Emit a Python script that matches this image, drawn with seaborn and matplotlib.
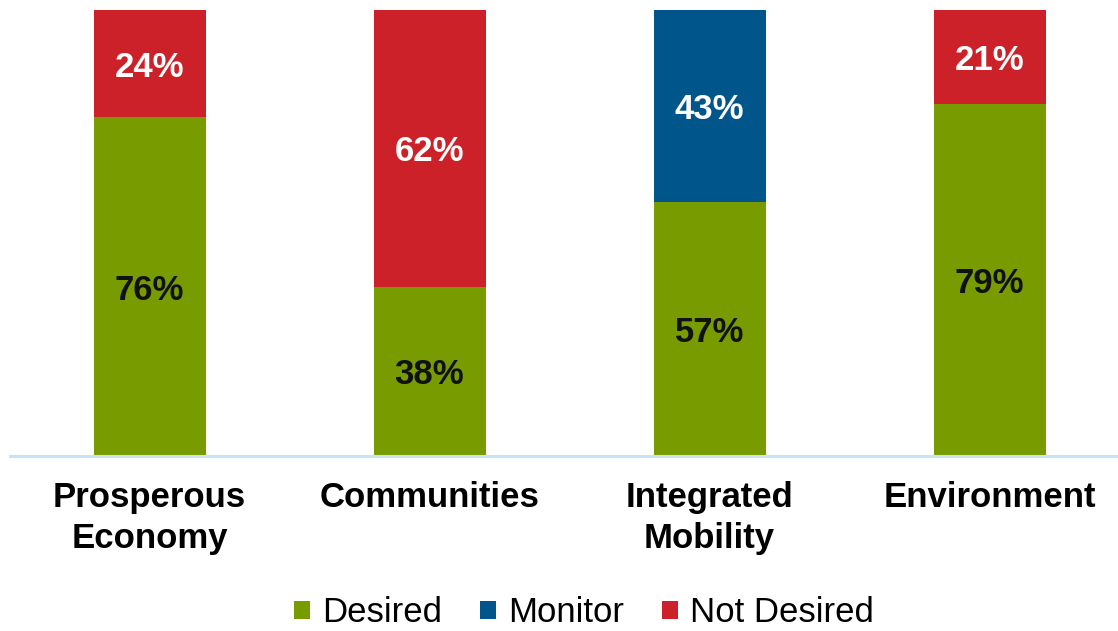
import matplotlib
matplotlib.use("Agg")
import matplotlib.pyplot as plt
import seaborn as sns
import pandas as pd
from matplotlib.patches import Patch

categories = ["Prosperous\nEconomy", "Communities", "Integrated\nMobility", "Environment"]
desired = [76, 38, 57, 79]
other = [24, 62, 43, 21]
other_type = ["Not Desired", "Not Desired", "Monitor", "Not Desired"]
legend_labels = ["Desired", "Monitor", "Not Desired"]

colors = {"Desired": "#789C00", "Monitor": "#00558B", "Not Desired": "#CC2128"}

sns.set_style("white")
plt.rcParams["font.family"] = ["Liberation Sans", "DejaVu Sans"]
plt.rcParams["text.color"] = "black"

df = pd.DataFrame({
    "cat": categories,
    "desired": desired,
    "other": other,
    "otype": other_type,
})
df["total"] = df["desired"] + df["other"]

fig = plt.figure(figsize=(11.18, 6.31), dpi=100)
ax = fig.add_axes([9.5 / 1118, 1 - 456 / 631, 1120 / 1118, 446 / 631])

sns.barplot(data=df, x="cat", y="total", hue="otype", palette=colors,
            dodge=False, width=0.4, saturation=1, errorbar=None,
            legend=False, ax=ax, linewidth=0)
sns.barplot(data=df, x="cat", y="desired", color=colors["Desired"],
            width=0.4, saturation=1, errorbar=None, ax=ax, linewidth=0)

for i, (d, o) in enumerate(zip(desired, other)):
    ax.text(i, d / 2, f"{d}%", ha="center", va="center_baseline", fontsize=25,
            fontweight="bold", color="#111111")
    ax.text(i, d + o / 2, f"{o}%", ha="center", va="center_baseline", fontsize=25,
            fontweight="bold", color="white")

ax.set_ylim(0, 100)
ax.set_xlim(-0.5, 3.5)
ax.set_xlabel("")
ax.set_ylabel("")
ax.set_yticks([])
ax.tick_params(axis="x", length=0, pad=18, labelsize=25)
for lbl in ax.get_xticklabels():
    lbl.set_fontweight("bold")
    lbl.set_color("black")
    lbl.set_linespacing(1.3)
for s in ["top", "right", "left"]:
    ax.spines[s].set_visible(False)
ax.spines["bottom"].set_color("#C5E4FA")
ax.spines["bottom"].set_linewidth(2.2)

handles = [Patch(facecolor=colors[k], edgecolor="none") for k in legend_labels]
leg = fig.legend(handles, legend_labels, loc="center",
                 bbox_to_anchor=(584 / 1118, 1 - 613 / 631), ncol=3, frameon=False,
                 fontsize=25, handlelength=0.45, handleheight=0.45,
                 handletextpad=0.35, columnspacing=1.1, borderaxespad=0,
                 borderpad=0)
for t in leg.get_texts():
    t.set_color("black")

fig.savefig("out.png", dpi=100)
